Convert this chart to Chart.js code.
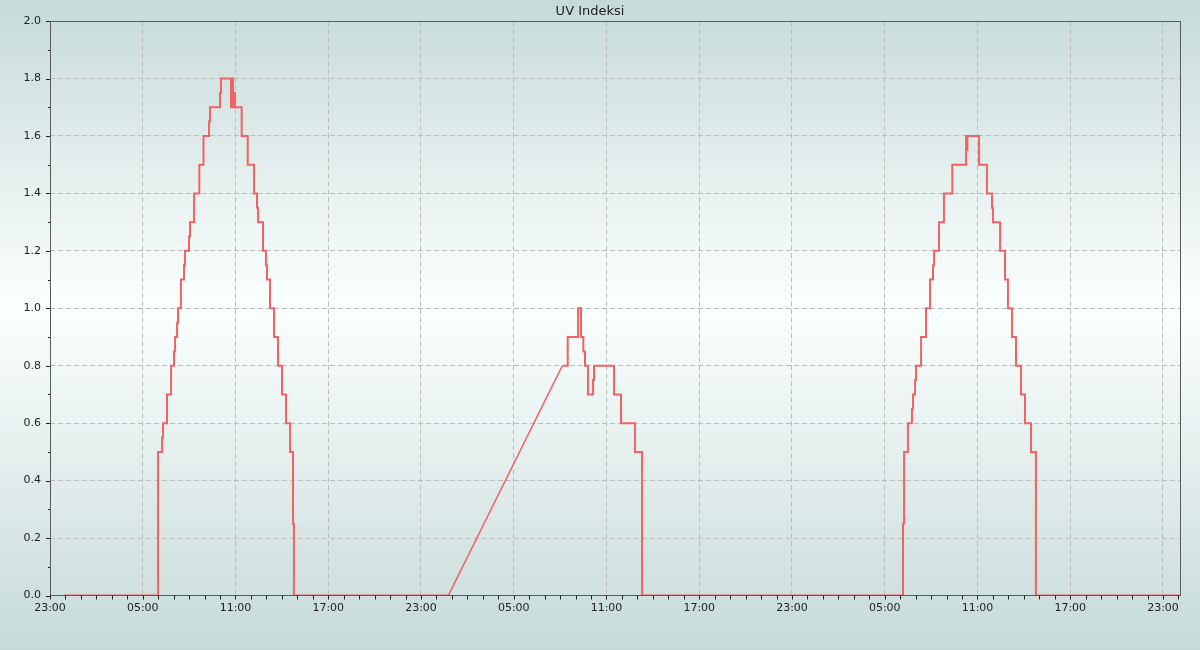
<!DOCTYPE html>
<html>
<head>
<meta charset="utf-8">
<title>UV Indeksi</title>
<script src="https://cdn.jsdelivr.net/npm/chart.js@4/dist/chart.umd.min.js"></script>
<style>
  html, body { margin: 0; padding: 0; background: #c8dcda; }
  #uvChart { display: block; }
</style>
</head>
<body>
<canvas id="uvChart" width="1200" height="650"></canvas>
<script>
/* UV Indeksi - hours counted from 00:00 of the first full day */
const dayOneHours = [-0.08, 5.99, 6.25, 6.31, 6.57, 6.83, 7.02, 7.09, 7.22, 7.28, 7.47, 7.67, 7.73, 7.99, 8.06, 8.32, 8.66, 8.93, 9.29, 9.35, 10.0, 10.06,
  10.71, 10.77, 10.84, 10.9, 10.97, 11.4, 11.79, 12.2, 12.39, 12.46, 12.78, 12.97, 13.04, 13.23, 13.49, 13.75, 14.01, 14.27, 14.53, 14.72, 14.78, 24.77];
const dayOneUv = [0, 0.5, 0.55, 0.6, 0.7, 0.8, 0.85, 0.9, 0.95, 1.0, 1.1, 1.15, 1.2, 1.25, 1.3, 1.4, 1.5, 1.6, 1.65, 1.7, 1.75, 1.8,
  1.7, 1.8, 1.7, 1.75, 1.7, 1.6, 1.5, 1.4, 1.35, 1.3, 1.2, 1.15, 1.1, 1.0, 0.9, 0.8, 0.7, 0.6, 0.5, 0.25, 0, 0];

const rampHours = [24.77, 32.14];
const rampUv = [0, 0.8];

const laterHours = [32.14, 32.49, 33.16, 33.35, 33.5, 33.61, 33.8, 34.13, 34.19, 35.49, 35.94, 36.84, 37.3,
  54.18, 54.25, 54.5, 54.76, 54.83, 54.96, 55.02, 55.35, 55.67, 55.93, 56.12, 56.19, 56.51, 56.83, 57.37, 58.26, 58.3, 58.35,
  59.1, 59.61, 59.94, 60.0, 60.46, 60.78, 60.97, 61.23, 61.49, 61.81, 62.07, 62.46, 62.78, 72.05];
const laterUv = [0.8, 0.9, 1.0, 0.9, 0.85, 0.8, 0.7, 0.75, 0.8, 0.7, 0.6, 0.5, 0,
  0.25, 0.5, 0.6, 0.65, 0.7, 0.75, 0.8, 0.9, 1.0, 1.1, 1.15, 1.2, 1.3, 1.4, 1.5, 1.6, 1.55, 1.6,
  1.5, 1.4, 1.35, 1.3, 1.2, 1.1, 1.0, 0.9, 0.8, 0.7, 0.6, 0.5, 0, 0];

const xMin = -1, xMax = 72.1;
const yMin = 0, yMax = 2.0;

const lineColor = '#f26262';
const gridColor = '#bcbcbc';
const font = { family: "'DejaVu Sans', sans-serif", size: 11 };

function pts(xs, ys) { return xs.map((x, i) => ({ x, y: ys[i] })); }
function isMajorX(v) { return Math.abs(((v + 1) % 6 + 6) % 6) < 1e-6; }
function isMajorY(v) { return Math.abs(Math.round(v * 5) - v * 5) < 1e-6; }
function hourLabel(v) { const h = ((Math.round(v) % 24) + 24) % 24; return String(h).padStart(2, '0') + ':00'; }

const backdrop = {
  id: 'backdrop',
  beforeDraw(chart) {
    const c = chart.ctx;
    const g = c.createLinearGradient(0, 0, 0, chart.height);
    g.addColorStop(0, '#c6dad8');
    g.addColorStop(0.47, '#fbffff');
    g.addColorStop(1, '#c6dad8');
    c.save();
    c.fillStyle = g;
    c.fillRect(0, 0, chart.width, chart.height);
    c.restore();
  }
};

const frame = {
  id: 'frame',
  afterDraw(chart) {
    const c = chart.ctx, a = chart.chartArea;
    const xs = chart.scales.x, ys = chart.scales.y;
    c.save();
    c.strokeStyle = '#5a5a5a';
    c.lineWidth = 1;
    c.strokeRect(Math.round(a.left) + 0.5, Math.round(a.top) + 0.5, Math.round(a.right - a.left), Math.round(a.bottom - a.top));
    c.strokeStyle = '#222';
    c.beginPath();
    xs.ticks.forEach(t => {
      const px = Math.round(xs.getPixelForValue(t.value)) + 0.5;
      c.moveTo(px, a.bottom);
      c.lineTo(px, a.bottom + 4);
    });
    ys.ticks.forEach(t => {
      const py = Math.round(ys.getPixelForValue(t.value)) + 0.5;
      c.moveTo(a.left, py);
      c.lineTo(a.left - (isMajorY(t.value) ? 4 : 2), py);
    });
    c.stroke();
    c.restore();
  }
};

new Chart(document.getElementById('uvChart'), {
  type: 'line',
  data: {
    datasets: [
      { label: 'UV', data: pts(dayOneHours, dayOneUv), stepped: true, borderColor: lineColor, borderWidth: 2, pointRadius: 0, fill: false },
      { label: 'UV ramp', data: pts(rampHours, rampUv), borderColor: lineColor, borderWidth: 1.6, pointRadius: 0, fill: false, tension: 0 },
      { label: 'UV later', data: pts(laterHours, laterUv), stepped: true, borderColor: lineColor, borderWidth: 2, pointRadius: 0, fill: false }
    ]
  },
  options: {
    responsive: false,
    animation: false,
    layout: { padding: { top: 0, right: 20, bottom: 0, left: 0 } },
    plugins: {
      legend: { display: false },
      tooltip: { enabled: false },
      title: { display: true, text: 'UV Indeksi', color: '#222', font: { family: font.family, size: 13, weight: 'normal' }, padding: { top: 4, bottom: 1.5 } }
    },
    scales: {
      x: {
        type: 'linear', min: xMin, max: xMax,
        afterBuildTicks(scale) {
          const t = [];
          for (let h = xMin; h <= xMax; h++) t.push({ value: h });
          scale.ticks = t;
        },
        afterFit(scale) { scale.height = 54.5; },
        border: { display: false, dash: [5, 3] },
        grid: { drawTicks: false, color: ctx => (ctx.tick && isMajorX(ctx.tick.value)) ? gridColor : 'rgba(0,0,0,0)' },
        ticks: { autoSkip: false, maxRotation: 0, padding: 6, color: '#222', font, callback: v => isMajorX(v) ? hourLabel(v) : '' }
      },
      y: {
        min: yMin, max: yMax,
        afterBuildTicks(scale) {
          const t = [];
          for (let i = 0; i <= 20; i++) t.push({ value: i / 10 });
          scale.ticks = t;
        },
        afterFit(scale) { scale.width = 50; },
        border: { display: false, dash: [5, 3] },
        grid: { drawTicks: false, color: ctx => (ctx.tick && isMajorY(ctx.tick.value)) ? gridColor : 'rgba(0,0,0,0)' },
        ticks: { padding: 9, color: '#222', font, callback: v => isMajorY(v) ? Number(v).toFixed(1) : '' }
      }
    }
  },
  plugins: [backdrop, frame]
});
</script>
</body>
</html>
